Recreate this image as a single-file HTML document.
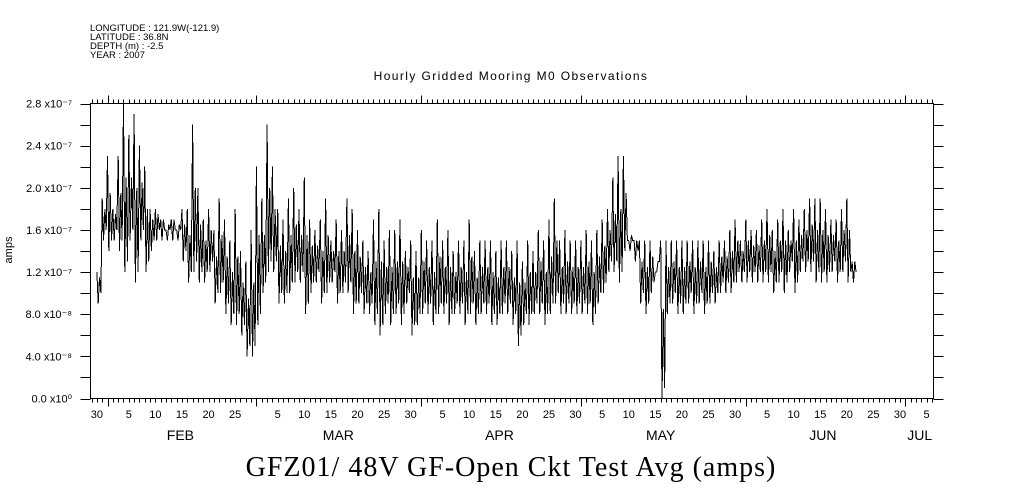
<!DOCTYPE html>
<html><head><meta charset="utf-8">
<style>
body{margin:0;background:#fff;}
svg{display:block;font-family:"Liberation Sans",sans-serif;}
</style></head>
<body>
<svg id="chart" width="1009" height="504" viewBox="0 0 1009 504" xmlns="http://www.w3.org/2000/svg">
<g font-size="9.5" fill="#000">
<text x="90" y="31">LONGITUDE : 121.9W(-121.9)</text>
<text x="90" y="40">LATITUDE : 36.8N</text>
<text x="90" y="49">DEPTH (m) : -2.5</text>
<text x="90" y="58">YEAR : 2007</text>
</g>
<text x="511" y="80" text-anchor="middle" font-size="12" letter-spacing="1.4">Hourly Gridded Mooring M0 Observations</text>
<text transform="translate(12,250) rotate(-90)" text-anchor="middle" font-size="11">amps</text>
<text x="511" y="476" text-anchor="middle" font-size="28" letter-spacing="1" font-family="'Liberation Serif',serif">GFZ01/ 48V GF-Open Ckt Test Avg (amps)</text>
<rect x="90.5" y="103.5" width="843" height="295" fill="none" stroke="#000"/>
<g id="axes"></g>
<g id="series"></g>
</svg>
<script>
// values in units of 1e-8 amps, one pair per day starting Jan 30 (day-of-year 29)
const startDoy = 29;
const dailyHigh = [12,19,23, 18,23,28,25,27,24,22, 18,18,17,16,17,16, 18,18,26,20,17,18, 16,19,17,15,18,14, 13,16,22,19,26,22,
 18,17,19,20,18,21,17,16,17,19,15, 17,16,19,18,16,15,14,17,18,15,16,16,17,14,15,14,
 16,15,15,17,15,16,14,15,15,17,14,15,15,15,14,15,15,14,15,13, 15,14,16,15,17,19,15,16,15,15,
 15,16,15,16,17,18,21,23,23, 15,15,15,15,15, 12,15,
 15,15,15,15,15,15,15,15,15,14,15,15,16,17,15,
 17,16,16,17,18,16,17,18,16,18,17,18,19,19,19,18,17,17,18,19,13];
const dailyLow = [9,15,14, 15,14,12,15,11,15,12, 14,15,15,15,15,15, 13,11,12,11,11,12, 9,10,8,7,7,6, 4,4,7,10,12,12,
 9,9,10,11,11,8,10,11,9,10,11, 9,10,10,8,9,8,8,7,6,8,7,8,7,9,6,7,
 8,8,7,8,8,7,8,8,7,8,7,8,8,7,7,8,8,7,5,7, 7,8,8,7,8,9,8,8,8,8,
 8,8,7,9,10,12,12,11,14, 14,13,9,8,10, 12,0,
 8,9,8,8,9,8,9,8,9,9,10,10,10,11,11,
 11,11,11,11,11,10,11,10,12,10,12,12,12,11,11,11,12,11,12,11,11];
const yTickValues = [0,4,8,12,16,20,24,28];
const yTickLabels = ["0.0 x10\u2070","4.0 x10\u207B\u2078","8.0 x10\u207B\u2078","1.2 x10\u207B\u2077","1.6 x10\u207B\u2077","2.0 x10\u207B\u2077","2.4 x10\u207B\u2077","2.8 x10\u207B\u2077"];
const monthNames = ["FEB","MAR","APR","MAY","JUN","JUL"];
const monthLabelDoy = [44.7,74.4,104.7,135,165.5,183.7];

const NS="http://www.w3.org/2000/svg";
const X0=90.5,X1=933.5,Y0=398.5,Y1=103.5;
const doyMin=27.8, doyMax=186.3, vMax=28;
function xs(d){return X0+(d-doyMin)/(doyMax-doyMin)*(X1-X0);}
function ys(v){return Y0-(v/vMax)*(Y0-Y1);}
function mk(tag,attrs,parent){const e=document.createElementNS(NS,tag);for(const k in attrs)e.setAttribute(k,attrs[k]);parent.appendChild(e);return e;}
const axes=document.getElementById('axes');
for(let v=0;v<=28;v+=2){
  const y=Math.round(ys(v))+0.5;
  const l1=mk('line',{x1:X0-10,x2:X0,y1:y,y2:y,stroke:'#000'},axes);
  
  
  const l2=mk('line',{x1:X1,x2:X1+10,y1:y,y2:y,stroke:'#000'},axes);
  
  
}
yTickValues.forEach((v,i)=>{
  const t=mk('text',{x:72,y:ys(v)+4,'text-anchor':'end','font-size':'11'},axes);
  t.textContent=yTickLabels[i];
  
  
});
const mdays=[31,28,31,30,31,30,31,31];
const mstart=[0];for(let i=1;i<8;i++)mstart[i]=mstart[i-1]+mdays[i-1];
for(let d=28;d<=186;d++){
  const x=Math.round(xs(d))+0.5;
  const major=mstart.includes(d);
  const len=major?8:4;
  const b=mk('line',{x1:x,x2:x,y1:Y0,y2:Y0+len,stroke:'#000'},axes);
  
  
  const t=mk('line',{x1:x,x2:x,y1:Y1-len,y2:Y1,stroke:'#000'},axes);
  
  
}
for(let m=0;m<7;m++){
  for(let day=5;day<=30;day+=5){
    const d=mstart[m]+day-1;
    if(day>mdays[m])continue;
    if(d<28||d>186)continue;
    const t=mk('text',{x:xs(d),y:418,'text-anchor':'middle','font-size':'11'},axes);
    t.textContent=String(day);
    
    
  }
}
monthNames.forEach((n,i)=>{
  const t=mk('text',{x:xs(monthLabelDoy[i]),y:440,'text-anchor':'middle','font-size':'14'},axes);
  t.textContent=n;
  
  
});
let pts=[];
dailyHigh.forEach((h,i)=>{
  const d=startDoy+i, lo=dailyLow[i];
  const mid=(h+lo)/2+1;
  pts.push([xs(d),ys(h)],[xs(d+0.25),ys(lo)],[xs(d+0.5),ys(mid)],[xs(d+0.75),ys(lo+1)]);
});
const p=mk('polyline',{points:pts.map(q=>q[0].toFixed(1)+','+q[1].toFixed(1)).join(' '),fill:'none',stroke:'#000','stroke-width':'1','shape-rendering':'crispEdges'},document.getElementById('series'));


</script>
</body></html>
